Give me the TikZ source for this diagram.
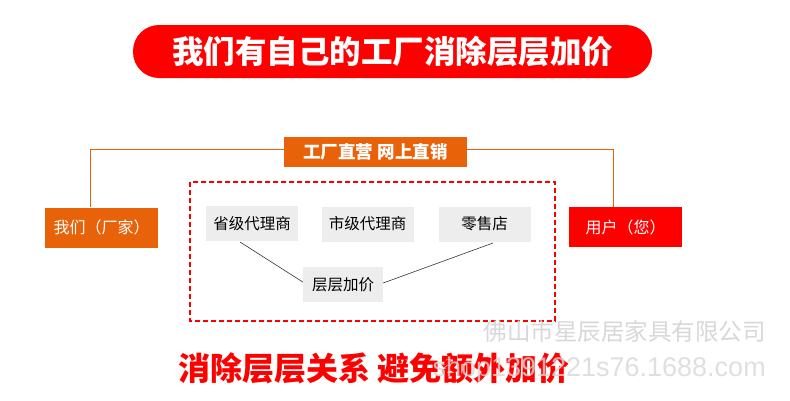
\documentclass[tikz,border=0pt]{standalone}
\usepackage{fontspec}
\newfontfamily\cjk{Noto Sans CJK SC}
\setsansfont{Liberation Sans}
\definecolor{titlered}{HTML}{FF0000}
\definecolor{orng}{HTML}{E8620A}
\definecolor{boxgrey}{HTML}{EDEDED}
\definecolor{wmgrey}{HTML}{D8D8D8}
\begin{document}
\begin{tikzpicture}[x=1pt,y=-1pt,
  greybox/.style={fill=boxgrey,draw=none,minimum width=92pt,minimum height=35pt,inner sep=0pt,font=\cjk\fontsize{15.5}{15.5}\selectfont,text=black},
  sidebox/.style={draw=none,minimum width=113pt,minimum height=40pt,inner sep=0pt,text=white,font=\cjk\fontsize{16}{16}\selectfont},
  link/.style={draw=black!80,line width=0.6pt},
  oline/.style={draw=orng,line width=1pt}]
\useasboundingbox (0,0) rectangle (790,400);
\fill[white] (0,0) rectangle (790,400);
% title
\node[fill=titlered,rounded corners=26pt,minimum width=519pt,minimum height=53pt,inner sep=0pt,text=white,font=\cjk\bfseries\fontsize{31.5}{31.5}\selectfont] (title) at (392.5,51.5) {我们有自己的工厂消除层层加价};
% header
\node[fill=orng,minimum width=183pt,minimum height=30pt,inner sep=0pt,text=white,font=\cjk\bfseries\fontsize{17.5}{17.5}\selectfont] (hdr) at (375.5,152) {工厂直营 网上直销};
% side boxes
\node[sidebox,fill=orng] (us) at (101.5,227.5) {我们（厂家）};
\node[sidebox,fill=titlered] (user) at (625.5,227) {用户（您）};
\coordinate (lc) at (90,149);
\coordinate (rc) at (613,149);
\draw[oline] (hdr.west |- lc) -- (lc) -- (lc |- us.north);
\draw[oline] (hdr.east |- rc) -- (rc) -- (rc |- user.north);
% dashed area
\draw[titlered,line width=1.2pt,dash pattern=on 5pt off 3pt] (190,182) rectangle (555,321);
\node[greybox] (p1) at (252,223.5) {省级代理商};
\node[greybox] (p2) at (367.5,224) {市级代理商};
\node[greybox] (p3) at (484.5,224) {零售店};
\node[greybox,minimum width=80pt] (p4) at (343,284.5) {层层加价};
\coordinate (a1) at (240,242);
\coordinate (a3) at (493,243);
\draw[link] (a1) -- (p4.west |- 0,282);
\draw[link] (a3) -- (p4.east |- 0,283);
% bottom slogan
\node[anchor=west,inner sep=0pt,text=titlered,font=\cjk\bfseries\fontsize{32}{32}\selectfont] (slogan) at (178,368) {消除层层关系 避免额外加价};
% watermark
\node[anchor=east,inner sep=0pt,text=wmgrey,font=\cjk\fontsize{23.5}{23.5}\selectfont] (wm1) at (766,332) {佛山市星辰居家具有限公司};
\node[anchor=east,inner sep=0pt,text=wmgrey,opacity=0.8,font=\sffamily\fontsize{27}{27}\selectfont] (wm2) at (766,370) {shop1391221s76.1688.com};
\end{tikzpicture}
\end{document}
